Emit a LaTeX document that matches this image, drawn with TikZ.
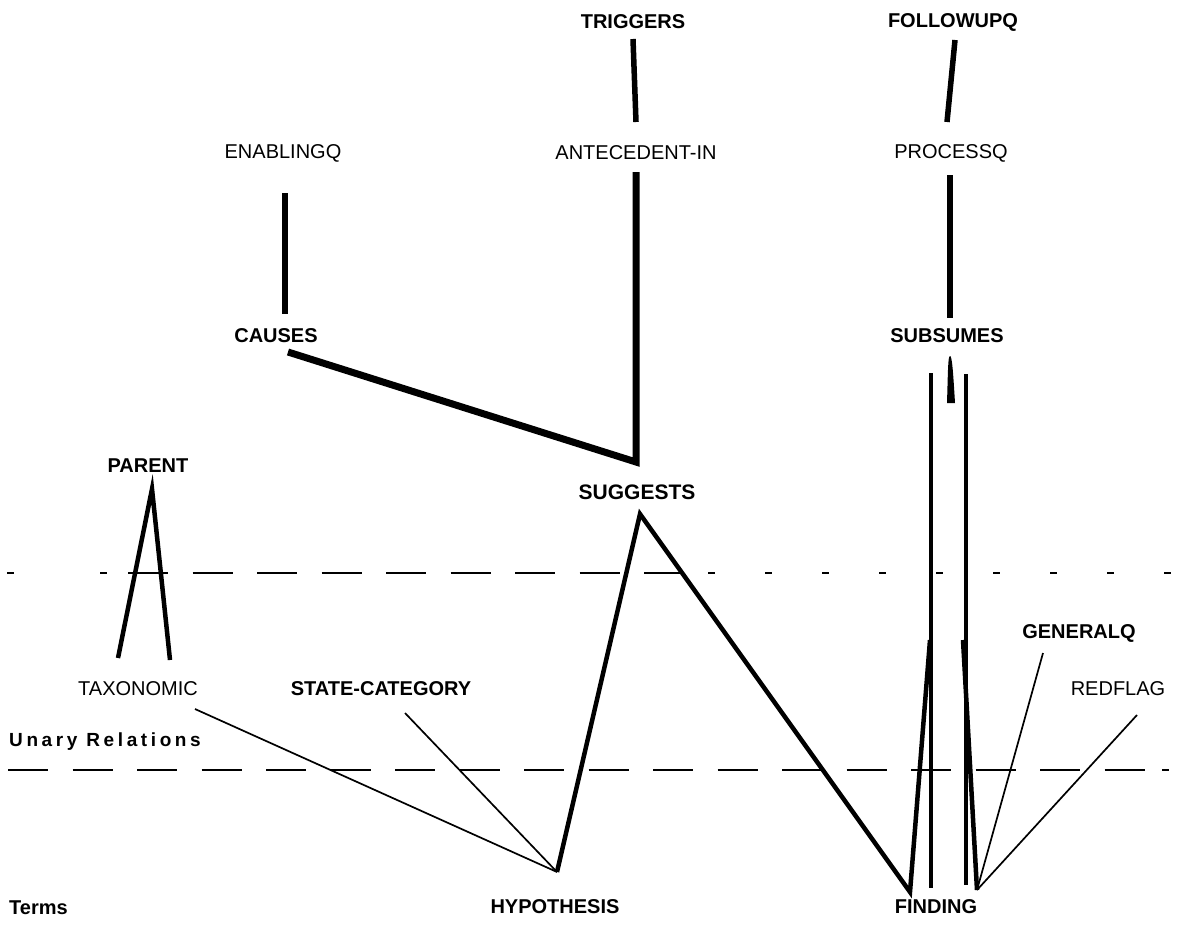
\documentclass[tikz,border=0pt]{standalone}
\usepackage{fontspec}
\setmainfont{Liberation Sans}
\begin{document}
\begin{tikzpicture}[x=1pt,y=-1pt,
  lbl/.style={inner sep=0pt,font=\fontsize{20}{24}\selectfont},
  blbl/.style={inner sep=0pt,font=\fontsize{20}{24}\selectfont\bfseries},
  thin/.style={line width=1.7pt},
  thick/.style={line width=4.5pt},
  uthick/.style={line width=5.5pt},
  vthick/.style={line width=7pt,line join=miter},
  dashline/.style={line width=1.3pt,dash pattern=on 40pt off 24.5pt},
  dotline/.style={line width=2pt}]
\useasboundingbox (0,0) rectangle (1186,942);

% labels
\node[blbl] (trig) at (633,22) {TRIGGERS};
\node[blbl] (follow) at (953,22) {FOLLOWUPQ};
\node[lbl] (enab) at (283,153) {ENABLINGQ};
\node[lbl] (ante) at (636,153) {ANTECEDENT-IN};
\node[lbl] (proc) at (951,153) {PROCESSQ};
\node[blbl] (causes) at (276,336) {CAUSES};
\node[blbl] (subs) at (947,336) {SUBSUMES};
\node[blbl] (parent) at (148,466) {PARENT};
\node[blbl,font=\fontsize{21}{25}\selectfont\bfseries] (sugg) at (637,492) {SUGGESTS};
\node[blbl] (genq) at (1079,633) {GENERALQ};
\node[lbl] (tax) at (138,689) {TAXONOMIC};
\node[blbl] (state) at (381,689) {STATE-CATEGORY};
\node[lbl] (red) at (1118,689) {REDFLAG};
\node[blbl,anchor=west,font=\fontsize{19}{23}\selectfont\bfseries\addfontfeature{LetterSpace=19}] (unary) at (9,742) {Unary Relations};
\node[blbl,anchor=west,font=\fontsize{20}{24}\selectfont\bfseries] (terms) at (9,908) {Terms};
\node[blbl] (hyp) at (555,907) {HYPOTHESIS};
\node[blbl] (find) at (936,907) {FINDING};

% connector end points
\coordinate (trigB) at (633,39);
\coordinate (anteT) at (636,122);
\coordinate (followB) at (955,40);
\coordinate (procT) at (947,122);
\coordinate (enabB) at (285,193);
\coordinate (causesT) at (285,314);
\coordinate (anteB) at (636,172);
\coordinate (suggT) at (636,462);
\coordinate (causesB) at (288,352);
\coordinate (procB) at (950,175);
\coordinate (subsB) at (950,318);
\coordinate (parentB) at (152,489);
\coordinate (taxL) at (118,658);
\coordinate (taxR) at (170,660);
\coordinate (suggB) at (640,514);
\coordinate (hypT) at (557,872);
\coordinate (findL) at (910,892);
\coordinate (findR) at (977,890);
\coordinate (zigL) at (930,640);
\coordinate (zigR) at (963,640);
\coordinate (taxB) at (195,709);
\coordinate (stateB) at (405,713);
\coordinate (genqB) at (1043,653);
\coordinate (redB) at (1137,715);

% thick connectors
\draw[uthick] (trigB) -- (anteT);
\draw[uthick] (followB) -- (procT);
\draw[uthick] (enabB) -- (causesT);
\draw[uthick] (procB) -- (subsB);
\draw[vthick] (causesB) -- (suggT) -- (anteB);
\draw[thick] (taxL) -- (parentB) -- (taxR);
\draw[thick] (hypT) -- (suggB) -- (findL) -- (zigL);
\draw[thick] (findR) -- (zigR);
\draw[line width=4pt] (931,373) -- (931,888);
\draw[line width=4pt] (966,374) -- (966,885);
\fill (950,356) .. controls (952,356) and (953,370) .. (955,403) -- (947,403) .. controls (948,370) and (948,356) .. (950,356) -- cycle;

% thin connectors
\draw[thin] (taxB) -- (hypT);
\draw[thin] (stateB) -- (hypT);
\draw[thin] (genqB) -- (findR);
\draw[thin] (redB) -- (findR);

% dashed level lines
\draw[dotline] (7,573) -- (14,573);
\draw[dotline] (100,573) -- (107,573);
\draw[dashline] (128,573) -- (690,573);
\foreach \k in {0,...,8} {
  \draw[dotline] ({708+57*\k},573) -- ({715+57*\k},573);
}
\draw[dashline] (8,770) -- (1150,770);
\draw[dotline] (1162,770) -- (1169,770);
\end{tikzpicture}
\end{document}
